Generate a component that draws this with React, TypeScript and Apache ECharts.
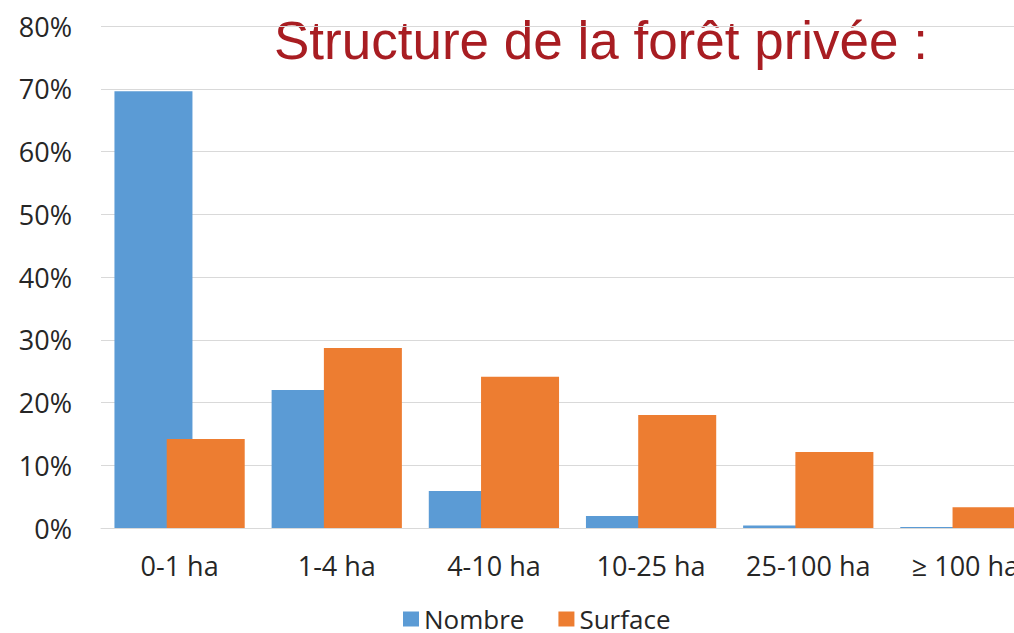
import React, { useEffect, useRef } from "react";
import * as echarts from "echarts";

const categories = ["0-1 ha", "1-4 ha", "4-10 ha", "10-25 ha", "25-100 ha", "≥ 100 ha"];
const nombre = [69.6, 22.0, 5.9, 1.9, 0.4, 0.15];
const surface = [14.2, 28.7, 24.1, 18.0, 12.1, 3.3];
const yTicks = { min: 0, max: 80, interval: 10 };
const titleText = "Structure de la forêt privée :";

export default function App() {
  const ref = useRef<HTMLDivElement>(null);
  useEffect(() => {
    if (!ref.current) return;
    const chart = echarts.init(ref.current, undefined, { renderer: "svg" });
    const font = "Open Sans";
    chart.setOption({
      animation: false,
      textStyle: { fontFamily: font },
      grid: { left: 101, right: 0, top: 26, bottom: 105, containLabel: false },
      graphic: [
        {
          type: "text",
          left: 274,
          top: 14,
          style: {
            text: titleText,
            fill: "#A81D22",
            font: "53px 'Liberation Sans', Arial, sans-serif",
          },
        },
      ],
      legend: {
        data: ["Nombre", "Surface"],
        left: 398,
        top: 601,
        icon: "rect",
        itemWidth: 16,
        itemHeight: 15,
        itemGap: 34,
        textStyle: { fontSize: 26, color: "#262626", fontFamily: font },
      },
      xAxis: {
        type: "category",
        data: categories,
        axisLine: { show: true, lineStyle: { color: "#d9d9d9", width: 1 } },
        axisTick: { show: false },
        axisLabel: {
          interval: 0,
          fontSize: 27,
          color: "#262626",
          margin: 24,
          fontFamily: font,
        },
      },
      yAxis: {
        type: "value",
        min: yTicks.min,
        max: yTicks.max,
        interval: yTicks.interval,
        axisLine: { show: false },
        axisTick: { show: false },
        splitLine: { lineStyle: { color: "#d9d9d9", width: 1 } },
        axisLabel: {
          formatter: "{value}%",
          fontSize: 27,
          color: "#262626",
          margin: 29,
          fontFamily: font,
        },
      },
      series: [
        {
          name: "Nombre",
          type: "bar",
          data: nombre,
          barWidth: 78,
          barGap: "-33%",
          itemStyle: { color: "#5B9BD5" },
        },
        {
          name: "Surface",
          type: "bar",
          data: surface,
          barWidth: 78,
          itemStyle: { color: "#ED7D31" },
        },
      ],
    });
    return () => chart.dispose();
  }, []);
  return (
    <div
      style={{
        position: "absolute",
        left: 0,
        top: 0,
        width: 1014,
        height: 633,
        overflow: "hidden",
      }}
    >
      <div ref={ref} style={{ width: 1044, height: 633 }} />
    </div>
  );
}
